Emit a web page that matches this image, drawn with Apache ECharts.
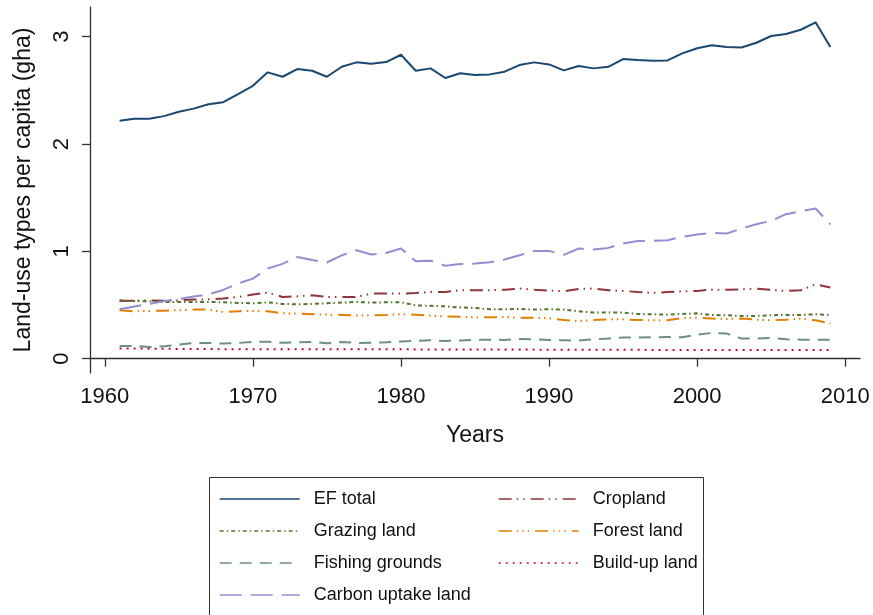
<!DOCTYPE html>
<html>
<head>
<meta charset="utf-8">
<script src="https://cdn.jsdelivr.net/npm/echarts@6/dist/echarts.min.js"></script>
<style>
  html, body { margin: 0; padding: 0; background: #fff; }
  #chart { width: 873px; height: 615px; }
</style>
</head>
<body>
<div id="chart"></div>
<script>
// years 1961-2009
var years = [];
for (var y = 1961; y <= 2009; y++) years.push(y);

var efTotal = [2.216, 2.235, 2.235, 2.26, 2.30, 2.33, 2.37, 2.39, 2.465, 2.543,
  2.668, 2.627, 2.699, 2.683, 2.627, 2.72, 2.761, 2.748, 2.764, 2.832,
  2.683, 2.705, 2.615, 2.659, 2.643, 2.649, 2.674, 2.736, 2.761, 2.742,
  2.686, 2.727, 2.705, 2.72, 2.792, 2.783, 2.776, 2.779, 2.845, 2.892,
  2.92, 2.904, 2.90, 2.944, 3.007, 3.025, 3.065, 3.134, 2.904];
var cropland = [0.537, 0.54, 0.543, 0.54, 0.543, 0.55, 0.553, 0.56, 0.575, 0.597,
  0.615, 0.575, 0.58, 0.59, 0.575, 0.575, 0.575, 0.606, 0.606, 0.606,
  0.612, 0.621, 0.621, 0.637, 0.637, 0.637, 0.643, 0.653, 0.643, 0.634,
  0.628, 0.65, 0.653, 0.637, 0.631, 0.621, 0.612, 0.621, 0.628, 0.631,
  0.643, 0.643, 0.646, 0.653, 0.64, 0.631, 0.637, 0.693, 0.662];
var grazing = [0.543, 0.537, 0.534, 0.528, 0.528, 0.528, 0.528, 0.525, 0.519, 0.516,
  0.525, 0.51, 0.506, 0.51, 0.516, 0.522, 0.528, 0.522, 0.525, 0.525,
  0.497, 0.492, 0.487, 0.477, 0.472, 0.46, 0.46, 0.463, 0.457, 0.46,
  0.457, 0.441, 0.429, 0.429, 0.429, 0.416, 0.413, 0.41, 0.416, 0.422,
  0.407, 0.404, 0.398, 0.398, 0.404, 0.407, 0.407, 0.413, 0.407];
var forest = [0.451, 0.441, 0.444, 0.447, 0.451, 0.457, 0.457, 0.435, 0.441, 0.444,
  0.441, 0.423, 0.42, 0.413, 0.41, 0.407, 0.401, 0.404, 0.407, 0.413,
  0.41, 0.401, 0.392, 0.39, 0.384, 0.385, 0.388, 0.382, 0.382, 0.376,
  0.36, 0.351, 0.36, 0.366, 0.366, 0.36, 0.357, 0.357, 0.379, 0.382,
  0.373, 0.37, 0.373, 0.363, 0.357, 0.363, 0.373, 0.357, 0.327];
var fishing = [0.118, 0.118, 0.108, 0.115, 0.13, 0.146, 0.146, 0.14, 0.146, 0.155,
  0.158, 0.149, 0.152, 0.155, 0.143, 0.155, 0.146, 0.149, 0.152, 0.16,
  0.166, 0.171, 0.164, 0.168, 0.174, 0.177, 0.174, 0.183, 0.18, 0.174,
  0.171, 0.168, 0.18, 0.187, 0.196, 0.196, 0.199, 0.202, 0.199, 0.224,
  0.239, 0.233, 0.187, 0.187, 0.193, 0.18, 0.177, 0.177, 0.177];
var buildUp = [0.095, 0.094, 0.093, 0.092, 0.09, 0.089, 0.089, 0.088, 0.088, 0.088,
  0.088, 0.088, 0.087, 0.087, 0.087, 0.087, 0.087, 0.087, 0.087, 0.087,
  0.086, 0.086, 0.086, 0.085, 0.085, 0.085, 0.084, 0.084, 0.084, 0.083,
  0.083, 0.083, 0.082, 0.082, 0.082, 0.082, 0.081, 0.081, 0.081, 0.081,
  0.081, 0.08, 0.08, 0.08, 0.08, 0.08, 0.08, 0.08, 0.08];
var carbon = [0.46, 0.485, 0.51, 0.536, 0.555, 0.578, 0.6, 0.64, 0.70, 0.746,
  0.84, 0.883, 0.948, 0.92, 0.896, 0.963, 1.01, 0.97, 0.985, 1.026,
  0.908, 0.912, 0.866, 0.882, 0.886, 0.899, 0.923, 0.963, 1.004, 1.004,
  0.967, 1.026, 1.017, 1.032, 1.073, 1.097, 1.097, 1.104, 1.135, 1.157,
  1.172, 1.166, 1.213, 1.253, 1.284, 1.346, 1.374, 1.399, 1.25];

var xTicks = [1960, 1970, 1980, 1990, 2000, 2010];
var yTicks = [0, 1, 2, 3];

var font = '"Liberation Sans", Arial, sans-serif';

function pairs(vals) {
  return years.map(function (yr, i) { return [yr, vals[i]]; });
}

function makeSeries(name, vals, color, dash) {
  return {
    name: name,
    type: 'line',
    data: pairs(vals),
    symbol: 'none',
    silent: true,
    lineStyle: { color: color, width: 2, type: dash },
    itemStyle: { color: color }
  };
}

// legend: line sample only, the symbol is hidden
var legendBase = {
  orient: 'vertical',
  padding: 0,
  itemWidth: 80,
  itemHeight: 14,
  itemGap: 12,
  selectedMode: false,
  lineStyle: { width: 1.4 },
  itemStyle: { opacity: 0, color: 'rgba(0,0,0,0)', borderWidth: 0 },
  textStyle: { fontFamily: font, fontSize: 18, color: '#111', lineHeight: 20, padding: [0, 0, 0, 9] }
};

var option = {
  animation: false,
  backgroundColor: '#fff',
  grid: { left: 90, right: 13, top: 7, bottom: 242 },
  xAxis: {
    type: 'value',
    min: 1959,
    max: 2011,
    name: 'Years',
    nameLocation: 'middle',
    nameGap: 51,
    nameTextStyle: { fontFamily: font, fontSize: 23, color: '#111' },
    axisLine: { lineStyle: { color: '#333', width: 1.3 } },
    axisTick: { length: 8, customValues: xTicks, lineStyle: { color: '#333', width: 1.3 } },
    axisLabel: {
      customValues: xTicks, margin: 13, fontFamily: font, fontSize: 22, color: '#111',
      formatter: function (v) { return String(v); }
    },
    splitLine: { show: false }
  },
  yAxis: {
    type: 'value',
    min: -0.134,
    max: 3.277,
    name: 'Land-use types per capita (gha)',
    nameLocation: 'middle',
    nameGap: 55,
    nameTextStyle: { fontFamily: font, fontSize: 23, color: '#111' },
    axisLine: { show: true, lineStyle: { color: '#333', width: 1.3 } },
    axisTick: { show: true, length: 8, customValues: yTicks, lineStyle: { color: '#333', width: 1.3 } },
    axisLabel: { customValues: yTicks, rotate: 90, margin: 17, fontFamily: font, fontSize: 22, color: '#111' },
    splitLine: { show: false }
  },
  legend: [
    Object.assign({}, legendBase, {
      left: 219, top: 489,
      data: ['EF total', 'Grazing land', 'Fishing grounds', 'Carbon uptake land']
    }),
    Object.assign({}, legendBase, {
      left: 498, top: 489,
      data: ['Cropland', 'Forest land', 'Build-up land']
    })
  ],
  graphic: [{
    type: 'rect',
    shape: { x: 209.5, y: 477.5, width: 494, height: 160 },
    style: { fill: 'none', stroke: '#333', lineWidth: 1 },
    z: -1
  }],
  series: [
    makeSeries('EF total', efTotal, '#1a476f', 'solid'),
    makeSeries('Cropland', cropland, '#90353b', [13, 5, 1.5, 5, 1.5, 6]),
    makeSeries('Grazing land', grazing, '#55752f', [4, 3, 1.5, 3]),
    makeSeries('Forest land', forest, '#e37e00', [13, 5, 1.5, 4, 1.5, 4, 1.5, 6]),
    makeSeries('Fishing grounds', fishing, '#6e8e84', [12, 8]),
    makeSeries('Build-up land', buildUp, '#c10534', [2, 5]),
    makeSeries('Carbon uptake land', carbon, '#938dd2', [22, 9])
  ]
};

var chart = echarts.init(document.getElementById('chart'));
chart.setOption(option);
</script>
</body>
</html>
